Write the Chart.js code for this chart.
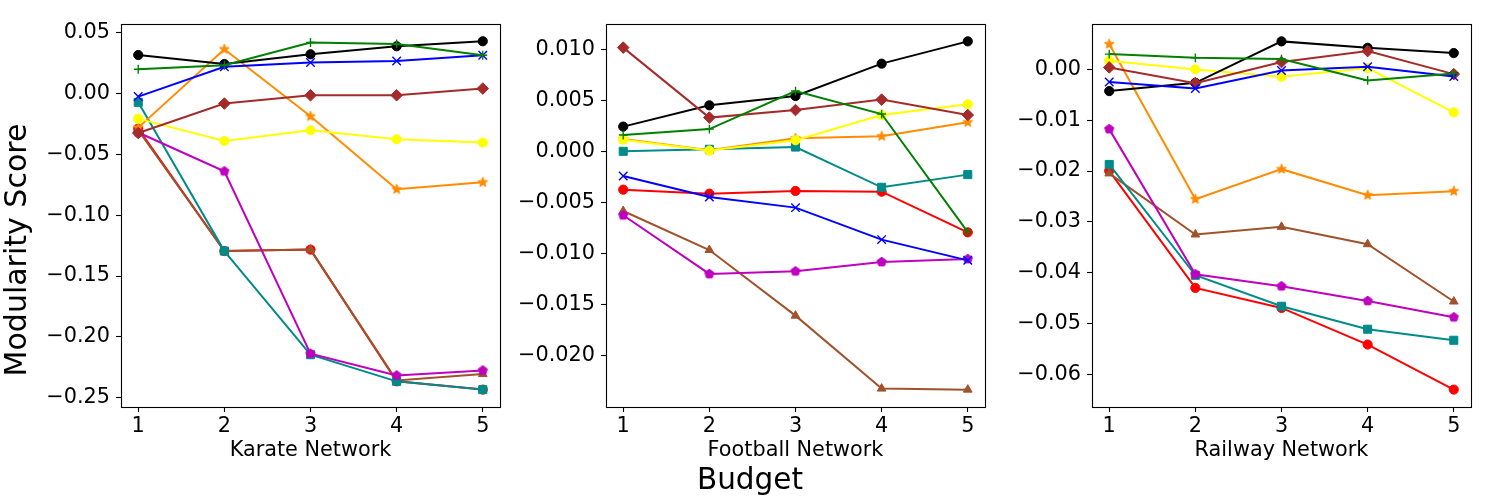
<!DOCTYPE html>
<html><head><meta charset="utf-8">
<script src="https://cdn.jsdelivr.net/npm/chart.js@4.4.1/dist/chart.umd.min.js"></script>
<style>
html,body{margin:0;padding:0;background:#fff;}
#wrap{position:relative;width:1500px;height:500px;overflow:hidden;font-family:"DejaVu Sans",sans-serif;background:#fff;}
canvas{position:absolute;top:0;}
.lbl{position:absolute;white-space:nowrap;color:#000;line-height:1;font-family:"DejaVu Sans",sans-serif;}
</style></head><body>
<div id="wrap">
<canvas id="c1" width="509" height="470" style="left:11px"></canvas>
<canvas id="c2" width="509" height="470" style="left:496px"></canvas>
<canvas id="c3" width="509" height="470" style="left:982px"></canvas>
<div class="lbl" style="font-size:29.5px;left:0;width:1500px;text-align:center;top:464.5px">Budget</div>
<div class="lbl" style="font-size:30px;left:-184px;width:400px;text-align:center;top:235px;transform:rotate(-90deg);transform-origin:50% 50%;">Modularity Score</div>
</div>
<script>
// ---------------- DATA ----------------
const budgets = [1, 2, 3, 4, 5];
const xLimits = [0.8, 5.2];

const panelTitles = ["Karate Network", "Football Network", "Railway Network"];

// Karate Network
const karateBlack   = [0.0317, 0.0243, 0.0323, 0.0389, 0.0430];
const karateGreen   = [0.0200, 0.0233, 0.0420, 0.0408, 0.0315];
const karateBlue    = [-0.0025, 0.0220, 0.0255, 0.0268, 0.0315];
const karateBrown   = [-0.0324, -0.0082, -0.0014, -0.0014, 0.0041];
const karateOrange  = [-0.0280, 0.0364, -0.0187, -0.0787, -0.0730];
const karateYellow  = [-0.0206, -0.0390, -0.0302, -0.0376, -0.0403];
const karateTeal    = [-0.0072, -0.1295, -0.2147, -0.2366, -0.2434];
const karateRed     = [-0.0288, -0.1295, -0.1283, -0.2366, -0.2434];
const karateSienna  = [-0.0300, -0.1295, -0.1283, -0.2359, -0.2306];
const karateMagenta = [-0.0320, -0.0639, -0.2138, -0.2317, -0.2276];
const karateYRange  = [-0.2577, 0.0572];
const karateTicks   = [-0.25, -0.20, -0.15, -0.10, -0.05, 0.00, 0.05];

// Football Network
const footballBlack   = [0.00242, 0.00450, 0.00541, 0.00858, 0.01076];
const footballGreen   = [0.00160, 0.00218, 0.00590, 0.00365, -0.00790];
const footballBlue    = [-0.00241, -0.00447, -0.00551, -0.00864, -0.01067];
const footballBrown   = [0.01015, 0.00330, 0.00404, 0.00506, 0.00355];
const footballOrange  = [0.00120, 0.00010, 0.00127, 0.00147, 0.00284];
const footballYellow  = [0.00114, 0.00007, 0.00108, 0.00355, 0.00460];
const footballTeal    = [0.00000, 0.00020, 0.00042, -0.00352, -0.00228];
const footballRed     = [-0.00375, -0.00414, -0.00388, -0.00395, -0.00793];
const footballSienna  = [-0.00584, -0.00966, -0.01608, -0.02322, -0.02332];
const footballMagenta = [-0.00626, -0.01200, -0.01174, -0.01083, -0.01054];
const footballYRange  = [-0.02502, 0.01246];
const footballTicks   = [-0.020, -0.015, -0.010, -0.005, 0.000, 0.005, 0.010];

// Railway Network
const railwayBlack   = [-0.00427, -0.00264, 0.00551, 0.00425, 0.00321];
const railwayGreen   = [0.00301, 0.00228, 0.00203, -0.00217, -0.00079];
const railwayBlue    = [-0.00250, -0.00374, -0.00020, 0.00051, -0.00138];
const railwayBrown   = [0.00039, -0.00270, 0.00144, 0.00360, -0.00093];
const railwayOrange  = [0.00498, -0.02553, -0.01963, -0.02474, -0.02396];
const railwayYellow  = [0.00169, 0.00000, -0.00146, 0.00026, -0.00846];
const railwayTeal    = [-0.01870, -0.04050, -0.04660, -0.05112, -0.05329];
const railwayRed     = [-0.01995, -0.04299, -0.04693, -0.05413, -0.06300];
const railwaySienna  = [-0.02047, -0.03248, -0.03098, -0.03439, -0.04567];
const railwayMagenta = [-0.01175, -0.04030, -0.04266, -0.04555, -0.04876];
const railwayYRange  = [-0.06642, 0.00893];
const railwayTicks   = [-0.06, -0.05, -0.04, -0.03, -0.02, -0.01, 0.00];

// ---------------- STYLE ----------------
const FONT = "DejaVu Sans";

function polyMarker(color, points, outer, innerRatio) {
  const c = document.createElement('canvas');
  c.width = 16; c.height = 16;
  const g = c.getContext('2d');
  g.beginPath();
  const n = innerRatio ? points * 2 : points;
  for (let i = 0; i < n; i++) {
    const r = innerRatio ? (i % 2 === 0 ? outer : outer * innerRatio) : outer;
    const a = -Math.PI / 2 + i * 2 * Math.PI / n;
    const px = 8 + r * Math.cos(a), py = 8 + r * Math.sin(a);
    if (i === 0) g.moveTo(px, py); else g.lineTo(px, py);
  }
  g.closePath();
  g.fillStyle = color; g.fill();
  g.strokeStyle = color; g.lineWidth = 1; g.stroke();
  return c;
}

// drawn bottom -> top
const seriesStyles = [
  {key: 'Red',     color: '#ff0000', point: 'circle',   radius: 4.6},
  {key: 'Sienna',  color: '#a0522d', point: 'triangle', radius: 5},
  {key: 'Teal',    color: '#008b8b', point: 'rect',     radius: 5.7},
  {key: 'Magenta', color: '#bf00bf', point: 'pentagon', radius: 5},
  {key: 'Orange',  color: '#ff8c00', point: 'star',     radius: 5},
  {key: 'Yellow',  color: '#ffff00', point: 'circle',   radius: 4.6},
  {key: 'Black',   color: '#000000', point: 'circle',   radius: 4.6},
  {key: 'Brown',   color: '#a52a2a', point: 'rectRot',  radius: 5.8},
  {key: 'Blue',    color: '#0000ff', point: 'crossRot', radius: 6},
  {key: 'Green',   color: '#008000', point: 'cross',    radius: 4.4}
];

const networks = [
  {canvas: 'c1', title: panelTitles[0], yRange: karateYRange, ticks: karateTicks, dec: 2,
   values: {Black: karateBlack, Green: karateGreen, Blue: karateBlue, Brown: karateBrown, Orange: karateOrange,
            Yellow: karateYellow, Teal: karateTeal, Red: karateRed, Sienna: karateSienna, Magenta: karateMagenta}},
  {canvas: 'c2', title: panelTitles[1], yRange: footballYRange, ticks: footballTicks, dec: 3,
   values: {Black: footballBlack, Green: footballGreen, Blue: footballBlue, Brown: footballBrown, Orange: footballOrange,
            Yellow: footballYellow, Teal: footballTeal, Red: footballRed, Sienna: footballSienna, Magenta: footballMagenta}},
  {canvas: 'c3', title: panelTitles[2], yRange: railwayYRange, ticks: railwayTicks, dec: 2,
   values: {Black: railwayBlack, Green: railwayGreen, Blue: railwayBlue, Brown: railwayBrown, Orange: railwayOrange,
            Yellow: railwayYellow, Teal: railwayTeal, Red: railwayRed, Sienna: railwaySienna, Magenta: railwayMagenta}}
];

const framePlugin = {
  id: 'frame',
  afterDatasetsDraw(chart) {
    const {ctx, chartArea: a} = chart;
    ctx.save();
    ctx.strokeStyle = '#000';
    ctx.lineWidth = 1.1;
    ctx.strokeRect(Math.round(a.left) + 0.5, Math.round(a.top) + 0.5,
                   Math.round(a.right - a.left), Math.round(a.bottom - a.top));
    ctx.restore();
  }
};

function fmt(v, d) {
  const s = Number(v).toFixed(d);
  return s.startsWith('-') ? '\u2212' + s.slice(1) : s;
}

networks.forEach(net => {
  const n = seriesStyles.length;
  const datasets = seriesStyles.map((s, i) => {
    let ps = s.point;
    if (ps === 'star') ps = polyMarker(s.color, 5, 5.2, 0.42);
    if (ps === 'pentagon') ps = polyMarker(s.color, 5, 4.8, 0);
    return {
      label: s.key,
      data: budgets.map((b, j) => ({x: b, y: net.values[s.key][j]})),
      borderColor: s.color,
      backgroundColor: s.color,
      borderWidth: 2,
      pointStyle: ps,
      pointRadius: s.radius,
      pointBorderWidth: (s.point === 'cross' || s.point === 'crossRot') ? 1.4 : 1,
      pointBackgroundColor: s.color,
      pointBorderColor: s.color,
      tension: 0,
      order: n - i
    };
  });

  new Chart(document.getElementById(net.canvas), {
    type: 'line',
    data: {datasets},
    plugins: [framePlugin],
    options: {
      responsive: false,
      animation: false,
      devicePixelRatio: 1,
      events: [],
      layout: {padding: {top: 24, right: 20, left: 0, bottom: 0}},
      plugins: {legend: {display: false}, tooltip: {enabled: false}},
      scales: {
        x: {
          type: 'linear',
          min: xLimits[0], max: xLimits[1],
          afterBuildTicks: sc => { sc.ticks = budgets.map(v => ({value: v})); },
          afterFit: sc => { sc.height = 63; },
          ticks: {color: '#000', font: {family: FONT, size: 20.8}, padding: 2, maxRotation: 0, autoSkip: false,
                  callback: v => String(v)},
          grid: {drawOnChartArea: false, drawTicks: true, tickLength: 5, tickColor: '#000', tickWidth: 1.1},
          border: {display: false},
          title: {display: true, text: net.title, color: '#000', font: {family: FONT, size: 20.8},
                  padding: {top: 0, bottom: 7}}
        },
        y: {
          type: 'linear',
          min: net.yRange[0], max: net.yRange[1],
          afterBuildTicks: sc => { sc.ticks = net.ticks.map(v => ({value: v})); },
          afterFit: sc => { sc.width = 110; },
          ticks: {color: '#000', font: {family: FONT, size: 20.8}, padding: 6, autoSkip: false,
                  callback: v => fmt(v, net.dec)},
          grid: {drawOnChartArea: false, drawTicks: true, tickLength: 5, tickColor: '#000', tickWidth: 1.1},
          border: {display: false}
        }
      }
    }
  });
});
</script>
</body></html>
